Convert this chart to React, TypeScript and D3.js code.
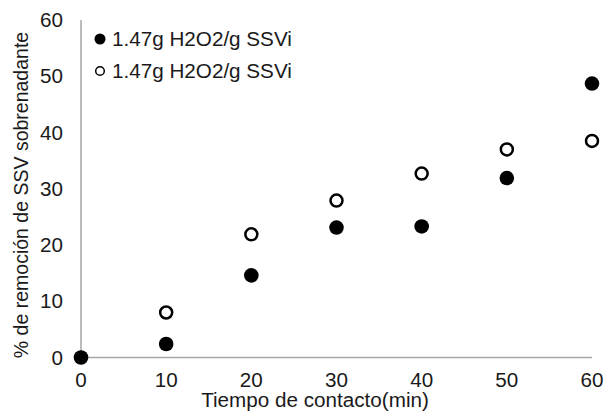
import React from "react";
import * as d3 from "d3";

const times = [0, 10, 20, 30, 40, 50, 60];
const seriesFilled = [0, 2.4, 14.6, 23.1, 23.3, 31.9, 48.7];
const seriesOpen = [null, 8.0, 21.9, 27.9, 32.7, 37.0, 38.5];
const xTicks = [0, 10, 20, 30, 40, 50, 60];
const yTicks = [0, 10, 20, 30, 40, 50, 60];
const legendLabels = ["1.47g H2O2/g SSVi", "1.47g H2O2/g SSVi"];
const xTitle = "Tiempo de contacto(min)";
const yTitle = "% de remoción de SSV sobrenadante";

const W = 609;
const H = 412;
const FONT = "'Liberation Sans', Arial, sans-serif";
const FS = 19.5;
const STRETCH = 1.06;
const INK = "#1a1a1a";

function HText({ x, y, anchor = "start", dy, children }: { x: number; y: number; anchor?: string; dy?: string; children: React.ReactNode }) {
  return (
    <g transform={`translate(${x},${y}) scale(${STRETCH},1)`}>
      <text x={0} y={0} dy={dy} textAnchor={anchor} fontSize={FS} fill={INK}>
        {children}
      </text>
    </g>
  );
}

export default function App() {
  const x = d3.scaleLinear().domain([0, 60]).range([81, 592]);
  const y = d3.scaleLinear().domain([0, 60]).range([357.5, 20]);
  const axisColor = "#a6a6a6";

  return (
    <svg
      width={W}
      height={H}
      style={{ position: "absolute", left: 0, top: 0, background: "#fff" }}
      fontFamily={FONT}
    >
      {/* axes */}
      <line x1={x(0)} x2={x(0)} y1={y(60)} y2={y(0)} stroke={axisColor} strokeWidth={1.5} />
      <line x1={x(0)} x2={x(60)} y1={y(0)} y2={y(0)} stroke={axisColor} strokeWidth={1.5} />

      {yTicks.map((t) => (
        <HText key={"y" + t} x={63} y={y(t)} dy="0.36em" anchor="end">
          {t}
        </HText>
      ))}
      {xTicks.map((t) => (
        <HText key={"x" + t} x={x(t)} y={387} anchor="middle">
          {t}
        </HText>
      ))}

      <HText x={315} y={407} anchor="middle">
        {xTitle}
      </HText>
      <text
        transform={`translate(28, 195) rotate(-90)`}
        textAnchor="middle"
        fontSize={FS}
        fill={INK}
      >
        {yTitle}
      </text>

      {/* data */}
      {times.map((t, i) =>
        seriesOpen[i] == null ? null : (
          <circle key={"o" + t} cx={x(t)} cy={y(seriesOpen[i] as number)} r={6} fill="#fff" stroke="#000" strokeWidth={2.5} />
        )
      )}
      {times.map((t, i) => (
        <circle key={"f" + t} cx={x(t)} cy={y(seriesFilled[i])} r={7.3} fill="#000" />
      ))}

      {/* legend */}
      <circle cx={100} cy={39} r={5.5} fill="#000" />
      <HText x={112} y={39} dy="0.36em">
        {legendLabels[0]}
      </HText>
      <circle cx={100} cy={71} r={4.3} fill="#fff" stroke="#000" strokeWidth={1.5} />
      <HText x={112} y={71} dy="0.36em">
        {legendLabels[1]}
      </HText>
    </svg>
  );
}
